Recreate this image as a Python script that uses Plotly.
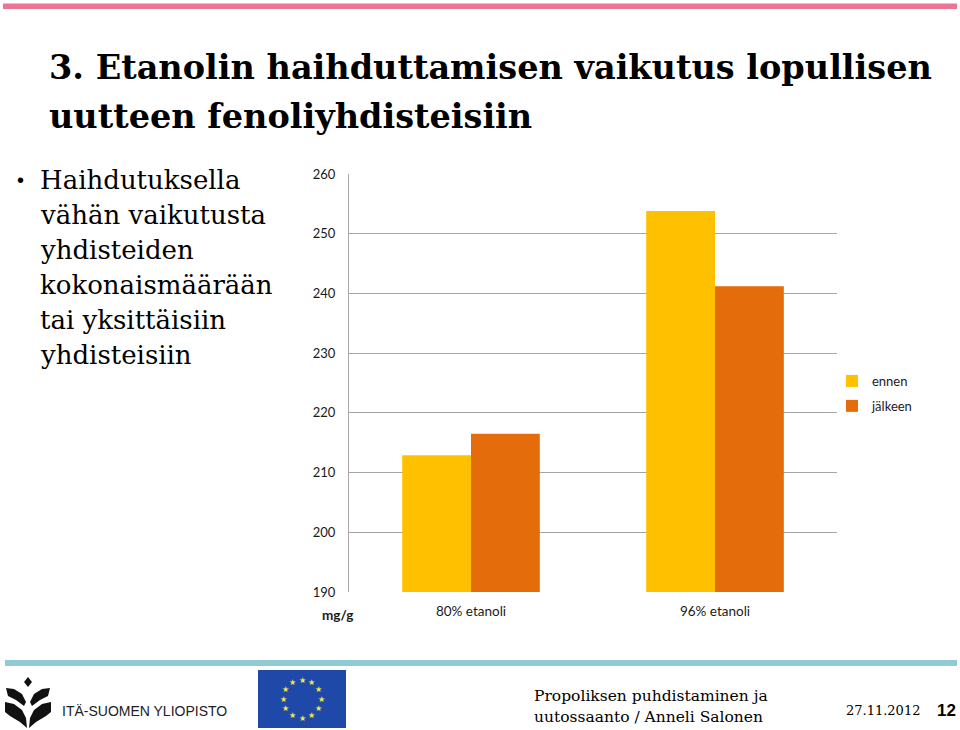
import math
import plotly.graph_objects as go

categories = ["80% etanoli", "96% etanoli"]
ennen = [212.9, 253.8]
jalkeen = [216.5, 241.2]
series_names = ["ennen", "jälkeen"]
y_ticks = [190, 200, 210, 220, 230, 240, 250, 260]

W, H = 960, 730
def px(x): return x / W
def py(y): return 1 - y / H

YELLOW = "#FFC000"
ORANGE = "#E46C0A"

fig = go.Figure()
fig.add_trace(go.Bar(x=categories, y=ennen, name=series_names[0],
                     marker=dict(color=YELLOW, line=dict(width=0)), legendgroup="a"))
fig.add_trace(go.Bar(x=categories, y=jalkeen, name=series_names[1],
                     marker=dict(color=ORANGE, line=dict(width=0)), legendgroup="b"))

chart_font = "Lato, 'Open Sans', sans-serif"
serif = "'DejaVu Serif', 'Liberation Serif', serif"
sans = "'Liberation Sans', Arial, sans-serif"

fig.update_layout(
    template="none",
    width=W, height=H, autosize=False,
    margin=dict(l=0, r=0, t=0, b=0, pad=0, autoexpand=False),
    paper_bgcolor="white", plot_bgcolor="white",
    barmode="group", bargap=0.436, bargroupgap=0,
    showlegend=True,
    legend=dict(x=px(832), y=py(366), xanchor="left", yanchor="top",
                font=dict(family=chart_font, size=13, color="#1a1a1a"),
                tracegroupgap=5, itemwidth=30, bgcolor="rgba(0,0,0,0)", borderwidth=0),
    xaxis=dict(domain=[px(349), px(837)], showgrid=False, showline=False, automargin=False,
               tickfont=dict(family=chart_font, size=13.5, color="#1a1a1a"),
               ticklabelstandoff=9, ticks=""),
    yaxis=dict(domain=[py(592), py(174)], range=[190, 260], automargin=False,
               tickvals=y_ticks, showgrid=True, gridcolor="#A6A6A6", gridwidth=1,
               showline=True, linecolor="#A6A6A6", linewidth=1, zeroline=False,
               tickfont=dict(family=chart_font, size=13, color="#1a1a1a"),
               ticks="", ticklabelstandoff=10),
)

shapes = []
shapes.append(dict(type="rect", xref="paper", yref="paper",
                   x0=px(3), x1=px(957), y0=py(9), y1=py(3.5),
                   fillcolor="#EE7493", line=dict(width=0)))
shapes.append(dict(type="rect", xref="paper", yref="paper",
                   x0=px(5), x1=px(957), y0=py(666), y1=py(660),
                   fillcolor="#8FCAD5", line=dict(width=0)))
shapes.append(dict(type="rect", xref="paper", yref="paper",
                   x0=px(258), x1=px(346), y0=py(728), y1=py(670),
                   fillcolor="#1F49A8", line=dict(width=0)))

def path(points):
    return "M " + " L ".join(f"{px(x):.5f},{py(y):.5f}" for x, y in points) + " Z"

logo_parts = [
    [(28, 677), (32, 682), (28, 687), (24, 682)],
    [(6, 688), (14, 689), (22, 694), (26, 702), (24, 706), (16, 700), (8, 696)],
    [(50, 688), (42, 689), (34, 694), (30, 702), (32, 706), (40, 700), (48, 696)],
    [(5, 702), (14, 704), (22, 710), (26, 718), (27, 728), (20, 722), (10, 716), (5, 712)],
    [(51, 702), (42, 704), (34, 710), (30, 718), (29, 728), (36, 722), (46, 716), (51, 712)],
]
for p in logo_parts:
    shapes.append(dict(type="path", xref="paper", yref="paper", path=path(p),
                       fillcolor="#111111", line=dict(width=0)))

fig.update_layout(shapes=shapes)

ann = []
def text(x, y, s, size, family, color="#000000", bold=False, xanchor="left"):
    ann.append(dict(x=px(x), y=py(y), xref="paper", yref="paper",
                    text=(f"<b>{s}</b>" if bold else s),
                    showarrow=False, xanchor=xanchor, yanchor="middle",
                    font=dict(size=size, family=family, color=color)))

text(47, 67, "3. Etanolin haihduttamisen vaikutus lopullisen", 33.5, serif, bold=True)
text(47, 116, "uutteen fenoliyhdisteisiin", 33.5, serif, bold=True)

text(15, 180, "•", 20, sans)
bullet_lines = ["Haihdutuksella", "vähän vaikutusta", "yhdisteiden",
                "kokonaismäärään", "tai yksittäisiin", "yhdisteisiin"]
for i, line in enumerate(bullet_lines):
    text(38, 180 + i * 35, line, 26, serif)

text(337, 615, "mg/g", 13.5, chart_font, color="#1a1a1a", bold=True, xanchor="center")

text(60, 711, "ITÄ-SUOMEN YLIOPISTO", 14, sans, color="#222222")
text(532, 696, "Propoliksen puhdistaminen ja", 15.5, serif)
text(532, 717, "uutossaanto / Anneli Salonen", 15.5, serif)
text(844, 710, "27.11.2012", 13, serif)
text(935, 710, "12", 17, sans, bold=True)

for k in range(12):
    a = 2 * math.pi * k / 12
    sx = 302 + 19 * math.sin(a)
    sy = 699 - 19 * math.cos(a)
    ann.append(dict(x=px(sx), y=py(sy), xref="paper", yref="paper", text="★",
                    showarrow=False, xanchor="center", yanchor="middle",
                    font=dict(size=8, color="#F5E63C", family="DejaVu Sans")))

fig.update_layout(annotations=ann)

fig.write_html("out.html", config={"displayModeBar": False},
               post_script="document.body.style.margin='0';document.body.style.overflow='hidden';")
